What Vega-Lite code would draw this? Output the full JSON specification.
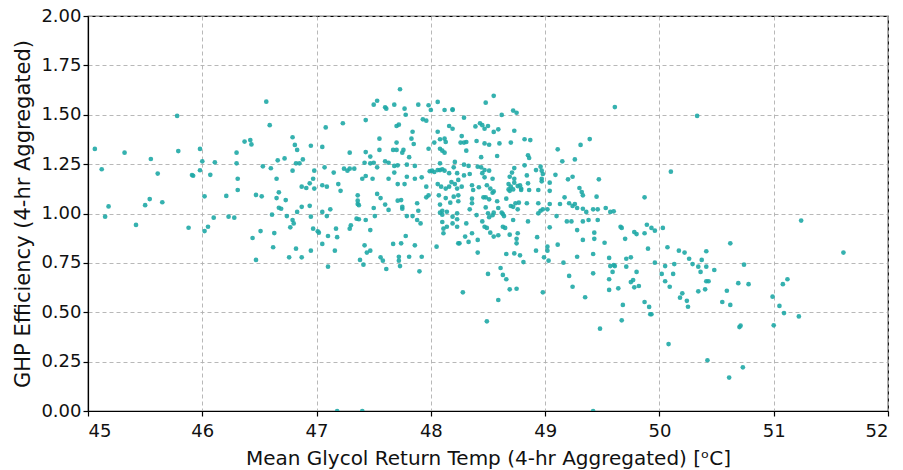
{
  "$schema": "https://vega.github.io/schema/vega-lite/v6.json",
  "autosize": "none",
  "width": 800,
  "height": 395,
  "padding": {"left": 88, "top": 16, "right": 15, "bottom": 59},
  "background": "white",
  "config": {
    "font": "DejaVu Sans",
    "view": {"stroke": "black", "strokeWidth": 1.2},
    "axis": {
      "labelFont": "DejaVu Sans",
      "titleFont": "DejaVu Sans",
      "labelFontSize": 18,
      "titleFontSize": 20,
      "labelColor": "#111111",
      "titleColor": "#111111",
      "titleFontWeight": "normal",
      "domainColor": "black",
      "domainWidth": 1.2,
      "tickColor": "black",
      "tickSize": 5,
      "tickWidth": 1.2,
      "gridColor": "#b0b0b0",
      "gridDash": [4, 3],
      "gridWidth": 0.9
    }
  },
  "data": {
    "values": [
      {"t":46.56,"e":1.566},{"t":45.78,"e":1.494},{"t":46.59,"e":1.447},{"t":46.37,"e":1.364},{"t":46.42,"e":1.372},
      {"t":46.43,"e":1.350},{"t":45.06,"e":1.327},{"t":45.32,"e":1.308},{"t":45.79,"e":1.316},{"t":45.98,"e":1.327},
      {"t":46.30,"e":1.308},{"t":45.55,"e":1.276},{"t":46.00,"e":1.264},{"t":46.11,"e":1.259},{"t":46.30,"e":1.254},
      {"t":46.66,"e":1.269},{"t":45.12,"e":1.224},{"t":46.53,"e":1.239},{"t":46.60,"e":1.229},{"t":45.61,"e":1.202},
      {"t":45.91,"e":1.195},{"t":45.92,"e":1.191},{"t":45.98,"e":1.219},{"t":46.07,"e":1.196},{"t":46.31,"e":1.176},
      {"t":46.65,"e":1.176},{"t":46.31,"e":1.119},{"t":46.02,"e":1.087},{"t":46.21,"e":1.089},{"t":46.47,"e":1.094},
      {"t":46.52,"e":1.087},{"t":46.67,"e":1.107},{"t":46.65,"e":1.078},{"t":45.18,"e":1.036},{"t":45.50,"e":1.042},
      {"t":45.54,"e":1.073},{"t":45.65,"e":1.057},{"t":46.67,"e":1.029},{"t":45.15,"e":0.984},{"t":46.10,"e":0.979},
      {"t":46.23,"e":0.984},{"t":46.28,"e":0.979},{"t":46.61,"e":0.994},{"t":45.42,"e":0.942},{"t":45.88,"e":0.928},
      {"t":46.05,"e":0.933},{"t":46.02,"e":0.911},{"t":46.51,"e":0.911},{"t":46.63,"e":0.901},{"t":46.44,"e":0.876},
      {"t":46.62,"e":0.829},{"t":46.47,"e":0.765},
      {"t":47.73,"e":1.629},{"t":47.50,"e":1.551},{"t":47.53,"e":1.571},{"t":47.60,"e":1.538},{"t":47.61,"e":1.531},
      {"t":47.68,"e":1.551},{"t":47.77,"e":1.531},{"t":47.89,"e":1.551},{"t":47.98,"e":1.548},{"t":48.00,"e":1.524},
      {"t":48.06,"e":1.565},{"t":48.12,"e":1.524},{"t":48.19,"e":1.528},{"t":48.19,"e":1.524},{"t":47.78,"e":1.500},
      {"t":47.08,"e":1.436},{"t":47.23,"e":1.457},{"t":47.43,"e":1.473},{"t":47.70,"e":1.443},{"t":47.72,"e":1.450},
      {"t":47.93,"e":1.477},{"t":47.96,"e":1.470},{"t":47.84,"e":1.414},{"t":48.06,"e":1.414},{"t":48.16,"e":1.443},
      {"t":48.19,"e":1.429},{"t":46.79,"e":1.386},{"t":46.81,"e":1.347},{"t":46.83,"e":1.322},{"t":46.95,"e":1.343},
      {"t":47.05,"e":1.337},{"t":47.55,"e":1.379},{"t":47.70,"e":1.359},{"t":47.83,"e":1.379},{"t":47.85,"e":1.352},
      {"t":48.03,"e":1.359},{"t":48.12,"e":1.379},{"t":47.67,"e":1.322},{"t":47.70,"e":1.322},{"t":47.76,"e":1.322},
      {"t":47.75,"e":1.308},{"t":47.55,"e":1.322},{"t":47.98,"e":1.328},{"t":48.08,"e":1.328},{"t":48.10,"e":1.318},
      {"t":48.12,"e":1.308},{"t":47.29,"e":1.308},{"t":47.43,"e":1.311},{"t":47.47,"e":1.288},{"t":47.81,"e":1.285},
      {"t":46.72,"e":1.279},{"t":46.82,"e":1.254},{"t":46.85,"e":1.254},{"t":46.88,"e":1.274},{"t":46.79,"e":1.217},
      {"t":46.98,"e":1.217},{"t":47.07,"e":1.234},{"t":47.15,"e":1.207},{"t":47.24,"e":1.227},{"t":47.27,"e":1.217},
      {"t":47.29,"e":1.227},{"t":47.33,"e":1.227},{"t":47.42,"e":1.257},{"t":47.47,"e":1.254},{"t":47.50,"e":1.257},
      {"t":47.53,"e":1.234},{"t":47.60,"e":1.264},{"t":47.63,"e":1.257},{"t":47.68,"e":1.241},{"t":47.71,"e":1.244},
      {"t":47.79,"e":1.247},{"t":47.86,"e":1.241},{"t":47.68,"e":1.207},{"t":47.99,"e":1.214},{"t":48.01,"e":1.217},
      {"t":48.03,"e":1.210},{"t":48.06,"e":1.220},{"t":48.08,"e":1.220},{"t":48.10,"e":1.224},{"t":48.12,"e":1.217},
      {"t":48.20,"e":1.234},{"t":48.23,"e":1.204},{"t":46.97,"e":1.176},{"t":46.94,"e":1.153},{"t":46.87,"e":1.136},
      {"t":46.91,"e":1.129},{"t":46.98,"e":1.126},{"t":47.05,"e":1.143},{"t":47.09,"e":1.136},{"t":47.19,"e":1.149},
      {"t":47.21,"e":1.115},{"t":47.40,"e":1.176},{"t":47.43,"e":1.190},{"t":47.49,"e":1.176},{"t":47.63,"e":1.176},
      {"t":47.71,"e":1.149},{"t":47.77,"e":1.149},{"t":47.79,"e":1.186},{"t":47.86,"e":1.176},{"t":47.92,"e":1.183},
      {"t":47.96,"e":1.136},{"t":48.06,"e":1.149},{"t":48.09,"e":1.136},{"t":48.13,"e":1.126},{"t":48.16,"e":1.136},
      {"t":48.21,"e":1.149},{"t":48.23,"e":1.126},{"t":48.24,"e":1.170},{"t":46.69,"e":1.024},{"t":46.73,"e":1.068},
      {"t":46.87,"e":1.034},{"t":46.94,"e":1.039},{"t":47.05,"e":1.008},{"t":47.12,"e":1.021},{"t":47.36,"e":1.092},
      {"t":47.36,"e":1.065},{"t":47.36,"e":1.048},{"t":47.37,"e":1.042},{"t":47.50,"e":1.028},{"t":47.53,"e":1.099},
      {"t":47.56,"e":1.078},{"t":47.60,"e":1.045},{"t":47.63,"e":1.018},{"t":47.71,"e":1.065},{"t":47.74,"e":1.068},
      {"t":47.75,"e":1.034},{"t":47.75,"e":1.024},{"t":47.88,"e":1.052},{"t":47.89,"e":1.014},{"t":47.96,"e":1.082},
      {"t":47.98,"e":1.092},{"t":48.07,"e":1.092},{"t":48.08,"e":1.045},{"t":48.10,"e":1.014},{"t":48.13,"e":1.078},
      {"t":48.17,"e":1.055},{"t":48.20,"e":1.085},{"t":48.24,"e":1.092},{"t":46.74,"e":0.987},{"t":46.79,"e":0.967},
      {"t":46.80,"e":0.950},{"t":46.83,"e":1.008},{"t":46.77,"e":0.930},{"t":46.95,"e":0.984},{"t":46.97,"e":0.923},
      {"t":47.01,"e":0.910},{"t":47.02,"e":0.903},{"t":47.09,"e":0.987},{"t":47.10,"e":0.886},{"t":47.17,"e":0.923},
      {"t":47.18,"e":0.880},{"t":47.05,"e":0.846},{"t":47.29,"e":0.923},{"t":47.30,"e":0.940},{"t":47.35,"e":0.974},
      {"t":47.37,"e":0.971},{"t":47.43,"e":0.967},{"t":47.47,"e":0.916},{"t":47.51,"e":0.987},{"t":47.78,"e":0.886},
      {"t":47.79,"e":0.987},{"t":47.84,"e":0.987},{"t":47.88,"e":0.967},{"t":47.91,"e":0.950},{"t":47.86,"e":0.839},
      {"t":47.67,"e":0.846},{"t":47.74,"e":0.849},{"t":48.10,"e":0.994},{"t":48.10,"e":0.957},{"t":48.11,"e":0.923},
      {"t":48.19,"e":0.984},{"t":48.19,"e":0.950},{"t":48.23,"e":0.971},{"t":48.23,"e":0.933},{"t":48.05,"e":0.832},
      {"t":48.24,"e":0.849},{"t":46.82,"e":0.822},{"t":46.95,"e":0.812},{"t":46.76,"e":0.778},{"t":46.87,"e":0.778},
      {"t":47.16,"e":0.812},{"t":47.42,"e":0.839},{"t":47.44,"e":0.802},{"t":47.47,"e":0.812},{"t":47.56,"e":0.778},
      {"t":47.72,"e":0.781},{"t":47.81,"e":0.781},{"t":47.92,"e":0.781},{"t":47.10,"e":0.731},{"t":47.18,"e":0.0},
      {"t":48.55,"e":1.596},{"t":48.48,"e":1.561},{"t":48.29,"e":1.485},{"t":48.62,"e":1.499},{"t":48.72,"e":1.521},
      {"t":48.75,"e":1.510},{"t":49.61,"e":1.539},{"t":48.39,"e":1.441},{"t":48.43,"e":1.457},{"t":48.45,"e":1.447},
      {"t":48.47,"e":1.429},{"t":48.50,"e":1.443},{"t":48.55,"e":1.413},{"t":48.59,"e":1.426},{"t":48.73,"e":1.419},
      {"t":48.08,"e":1.376},{"t":48.13,"e":1.362},{"t":48.27,"e":1.392},{"t":48.26,"e":1.359},{"t":48.29,"e":1.359},
      {"t":48.31,"e":1.362},{"t":48.40,"e":1.367},{"t":48.47,"e":1.355},{"t":48.51,"e":1.348},{"t":48.60,"e":1.355},
      {"t":48.70,"e":1.359},{"t":48.82,"e":1.376},{"t":48.87,"e":1.372},{"t":49.39,"e":1.377},{"t":49.31,"e":1.347},
      {"t":48.31,"e":1.318},{"t":48.44,"e":1.285},{"t":48.58,"e":1.291},{"t":48.85,"e":1.295},{"t":48.86,"e":1.281},
      {"t":49.11,"e":1.325},{"t":49.15,"e":1.264},{"t":49.26,"e":1.274},{"t":48.08,"e":1.254},{"t":48.21,"e":1.261},
      {"t":48.29,"e":1.247},{"t":48.33,"e":1.241},{"t":48.41,"e":1.237},{"t":48.44,"e":1.234},{"t":48.47,"e":1.220},
      {"t":48.51,"e":1.217},{"t":48.73,"e":1.230},{"t":48.82,"e":1.244},{"t":48.92,"e":1.220},{"t":48.96,"e":1.237},
      {"t":48.97,"e":1.217},{"t":48.98,"e":1.200},{"t":48.97,"e":1.176},{"t":48.97,"e":1.163},{"t":49.09,"e":1.196},
      {"t":49.20,"e":1.173},{"t":49.24,"e":1.186},{"t":49.47,"e":1.173},{"t":48.16,"e":1.204},{"t":48.29,"e":1.193},
      {"t":48.34,"e":1.200},{"t":48.45,"e":1.204},{"t":48.47,"e":1.183},{"t":48.54,"e":1.176},{"t":48.71,"e":1.207},
      {"t":48.69,"e":1.186},{"t":48.73,"e":1.176},{"t":48.84,"e":1.193},{"t":48.18,"e":1.159},{"t":48.27,"e":1.136},
      {"t":48.36,"e":1.143},{"t":48.37,"e":1.119},{"t":48.42,"e":1.133},{"t":48.49,"e":1.143},{"t":48.52,"e":1.126},
      {"t":48.55,"e":1.112},{"t":48.54,"e":1.105},{"t":48.68,"e":1.149},{"t":48.70,"e":1.136},{"t":48.68,"e":1.122},
      {"t":48.69,"e":1.115},{"t":48.72,"e":1.122},{"t":48.73,"e":1.156},{"t":48.76,"e":1.139},{"t":48.78,"e":1.143},
      {"t":48.79,"e":1.126},{"t":48.79,"e":1.119},{"t":48.85,"e":1.153},{"t":48.86,"e":1.119},{"t":48.94,"e":1.119},
      {"t":49.04,"e":1.156},{"t":49.04,"e":1.115},{"t":49.30,"e":1.129},{"t":49.32,"e":1.109},{"t":49.33,"e":1.092},
      {"t":49.45,"e":1.085},{"t":49.17,"e":1.082},{"t":48.24,"e":1.062},{"t":48.36,"e":1.075},{"t":48.36,"e":1.052},
      {"t":48.46,"e":1.082},{"t":48.48,"e":1.082},{"t":48.51,"e":1.072},{"t":48.58,"e":1.062},{"t":48.66,"e":1.075},
      {"t":48.70,"e":1.038},{"t":48.72,"e":1.034},{"t":48.74,"e":1.052},{"t":48.77,"e":1.055},{"t":48.84,"e":1.052},
      {"t":48.94,"e":1.052},{"t":48.98,"e":1.021},{"t":49.02,"e":1.021},{"t":49.04,"e":1.048},{"t":49.13,"e":1.048},
      {"t":49.21,"e":1.052},{"t":49.24,"e":1.038},{"t":49.26,"e":1.048},{"t":49.28,"e":1.028},{"t":49.33,"e":1.024},
      {"t":49.36,"e":1.008},{"t":49.42,"e":1.021},{"t":49.46,"e":1.021},{"t":49.53,"e":1.028},{"t":49.57,"e":1.008},
      {"t":49.60,"e":1.011},{"t":48.08,"e":1.004},{"t":48.14,"e":1.009},{"t":48.23,"e":1.001},{"t":48.34,"e":1.021},
      {"t":48.40,"e":0.992},{"t":48.48,"e":1.031},{"t":48.50,"e":1.001},{"t":48.51,"e":0.981},{"t":48.54,"e":0.991},
      {"t":48.55,"e":1.004},{"t":48.59,"e":1.028},{"t":48.62,"e":1.004},{"t":48.63,"e":0.997},{"t":48.64,"e":0.987},
      {"t":48.76,"e":1.021},{"t":48.94,"e":1.001},{"t":48.96,"e":1.014},{"t":49.10,"e":0.987},{"t":49.19,"e":0.960},
      {"t":49.23,"e":0.960},{"t":49.28,"e":0.916},{"t":49.33,"e":0.960},{"t":49.38,"e":0.967},{"t":49.46,"e":0.967},
      {"t":49.66,"e":0.933},{"t":49.67,"e":0.927},{"t":49.78,"e":0.906},{"t":49.80,"e":0.896},{"t":48.14,"e":0.933},
      {"t":48.31,"e":0.950},{"t":48.45,"e":0.960},{"t":48.47,"e":0.933},{"t":48.49,"e":0.927},{"t":48.63,"e":0.933},
      {"t":48.65,"e":0.927},{"t":48.72,"e":0.967},{"t":48.85,"e":0.960},{"t":49.04,"e":0.930},{"t":48.11,"e":0.900},
      {"t":48.25,"e":0.849},{"t":48.30,"e":0.883},{"t":48.33,"e":0.856},{"t":48.36,"e":0.900},{"t":48.41,"e":0.866},
      {"t":48.52,"e":0.903},{"t":48.55,"e":0.883},{"t":48.59,"e":0.890},{"t":48.69,"e":0.893},{"t":48.75,"e":0.872},
      {"t":48.75,"e":0.849},{"t":48.76,"e":0.900},{"t":48.93,"e":0.880},{"t":49.11,"e":0.842},{"t":49.02,"e":0.832},
      {"t":49.02,"e":0.812},{"t":49.33,"e":0.866},{"t":49.43,"e":0.872},{"t":49.43,"e":0.903},{"t":49.52,"e":0.852},
      {"t":49.70,"e":0.872},{"t":48.41,"e":0.802},{"t":48.66,"e":0.795},{"t":48.73,"e":0.798},{"t":48.78,"e":0.788},
      {"t":48.92,"e":0.812},{"t":49.28,"e":0.781},{"t":49.42,"e":0.795},{"t":49.56,"e":0.775},{"t":49.75,"e":0.778},
      {"t":50.33,"e":1.494},{"t":50.10,"e":1.212},{"t":49.87,"e":1.082},{"t":49.87,"e":0.900},{"t":49.89,"e":0.943},
      {"t":49.93,"e":0.927},{"t":49.96,"e":0.913},{"t":50.03,"e":0.927},{"t":49.90,"e":0.822},{"t":50.07,"e":0.829},
      {"t":50.17,"e":0.812},{"t":50.22,"e":0.802},{"t":50.26,"e":0.771},{"t":50.41,"e":0.809},{"t":50.62,"e":0.849},
      {"t":51.24,"e":0.964},{"t":51.61,"e":0.802},{"t":49.71,"e":0.771},{"t":50.37,"e":0.765},
      {"t":47.38,"e":0.765},{"t":47.41,"e":0.741},{"t":47.58,"e":0.761},{"t":47.61,"e":0.719},{"t":47.72,"e":0.761},
      {"t":47.73,"e":0.734},{"t":47.90,"e":0.707},{"t":48.28,"e":0.601},{"t":48.50,"e":0.694},{"t":48.49,"e":0.454},
      {"t":48.59,"e":0.562},{"t":48.61,"e":0.724},{"t":48.63,"e":0.689},{"t":48.66,"e":0.667},{"t":48.69,"e":0.616},
      {"t":48.75,"e":0.619},{"t":48.81,"e":0.754},{"t":48.98,"e":0.601},{"t":48.99,"e":0.778},{"t":49.03,"e":0.761},
      {"t":49.16,"e":0.751},{"t":49.21,"e":0.684},{"t":49.24,"e":0.629},{"t":49.35,"e":0.576},{"t":49.42,"e":0.697},
      {"t":49.48,"e":0.417},{"t":49.56,"e":0.667},{"t":49.56,"e":0.613},{"t":47.40,"e":0.0},{"t":49.42,"e":0.0},
      {"t":49.57,"e":0.734},{"t":49.60,"e":0.739},{"t":49.61,"e":0.734},{"t":49.59,"e":0.704},{"t":49.71,"e":0.731},
      {"t":49.80,"e":0.704},{"t":49.96,"e":0.751},{"t":50.05,"e":0.734},{"t":50.13,"e":0.744},{"t":50.02,"e":0.694},
      {"t":50.12,"e":0.694},{"t":50.29,"e":0.744},{"t":50.34,"e":0.731},{"t":50.41,"e":0.731},{"t":50.36,"e":0.704},
      {"t":50.48,"e":0.714},{"t":50.74,"e":0.741},{"t":49.64,"e":0.621},{"t":49.75,"e":0.653},{"t":49.77,"e":0.663},
      {"t":49.78,"e":0.626},{"t":49.82,"e":0.633},{"t":50.05,"e":0.657},{"t":50.09,"e":0.629},{"t":50.20,"e":0.596},
      {"t":50.18,"e":0.574},{"t":50.24,"e":0.558},{"t":50.25,"e":0.528},{"t":50.34,"e":0.606},{"t":50.40,"e":0.616},
      {"t":50.41,"e":0.657},{"t":50.43,"e":0.657},{"t":50.59,"e":0.609},{"t":50.55,"e":0.552},{"t":50.62,"e":0.537},
      {"t":50.69,"e":0.647},{"t":50.78,"e":0.642},{"t":50.99,"e":0.579},{"t":51.05,"e":0.532},{"t":51.09,"e":0.496},
      {"t":51.00,"e":0.434},{"t":51.08,"e":0.642},{"t":51.12,"e":0.667},{"t":51.22,"e":0.479},{"t":49.68,"e":0.537},
      {"t":49.67,"e":0.459},{"t":49.87,"e":0.552},{"t":49.91,"e":0.527},{"t":49.92,"e":0.490},{"t":49.93,"e":0.490},
      {"t":50.08,"e":0.339},{"t":50.70,"e":0.425},{"t":50.71,"e":0.432},{"t":50.42,"e":0.257},{"t":50.61,"e":0.169},
      {"t":50.73,"e":0.221}
    ]
  },
  "mark": {"type": "circle", "size": 22, "color": "#1fa8a6", "opacity": 0.9, "clip": true},
  "encoding": {
    "x": {
      "field": "t",
      "type": "quantitative",
      "scale": {"domain": [45, 52], "nice": false, "zero": false},
      "axis": {
        "title": "Mean Glycol Return Temp (4-hr Aggregated) [ᵒC]",
        "values": [45, 46, 47, 48, 49, 50, 51, 52],
        "format": "d",
        "labelPadding": 6,
        "titlePadding": 8
      }
    },
    "y": {
      "field": "e",
      "type": "quantitative",
      "scale": {"domain": [0, 2], "nice": false},
      "axis": {
        "title": "GHP Efficiency (4-hr Aggregated)",
        "titleFontSize": 21,
        "values": [0, 0.25, 0.5, 0.75, 1, 1.25, 1.5, 1.75, 2],
        "format": ".2f",
        "labelPadding": 2,
        "titlePadding": 7
      }
    }
  }
}
